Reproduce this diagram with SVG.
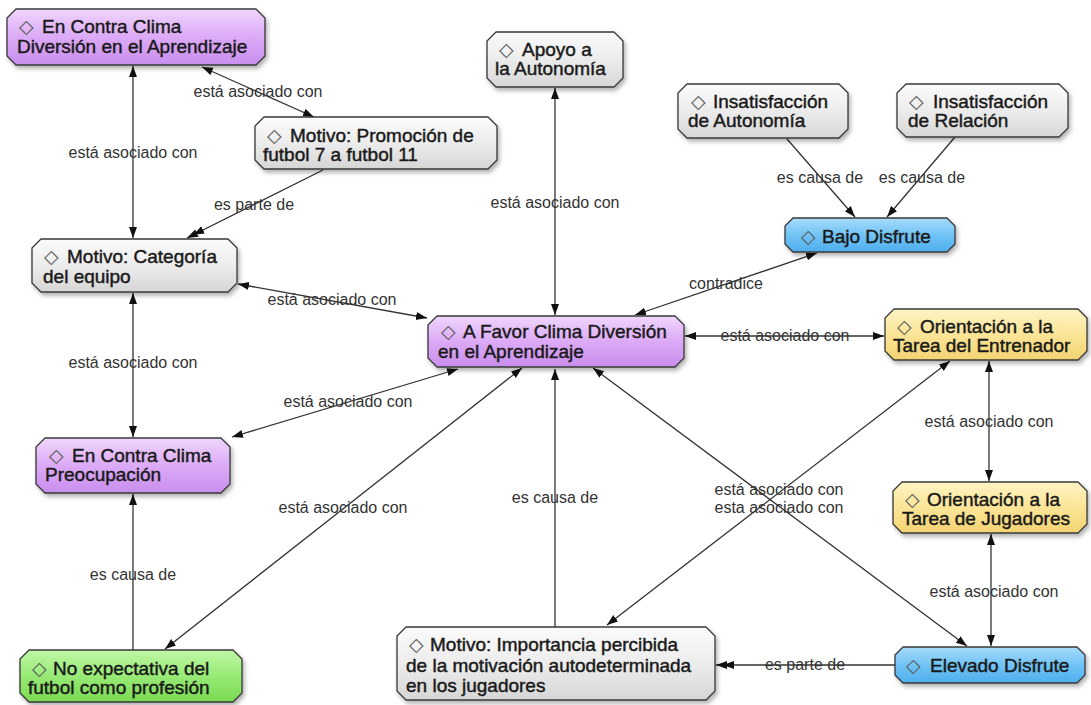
<svg xmlns="http://www.w3.org/2000/svg" width="1091" height="705" viewBox="0 0 1091 705">
  <defs>
    <style>
      .node path { stroke: #383838; stroke-width: 1.3; stroke-linejoin: round; filter: url(#shadow); }
      .node text { font-family: "Liberation Sans", Arial, sans-serif; font-size: 19px; fill: #1a1a1a; stroke: #1a1a1a; stroke-width: 0.45; }
      .node text .d { font-family: "DejaVu Sans", sans-serif; font-size: 19px; fill: #5a5a5a; stroke: none; }
      .purple path { fill: url(#gPurple); }
      .gray path { fill: url(#gGray); }
      .blue path { fill: url(#gBlue); }
      .yellow path { fill: url(#gYellow); }
      .green path { fill: url(#gGreen); }
      #connectors line { stroke: #333; stroke-width: 1.3; fill: none; }
      .both { marker-start: url(#arrow); marker-end: url(#arrow); }
      .one { marker-end: url(#arrow); }
      .dbl { marker-end: url(#arrow2); }
      .lbl { font-family: "Liberation Sans", Arial, sans-serif; font-size: 16px; fill: #333; text-anchor: middle; }
    </style>
    <filter id="shadow" x="-10%" y="-20%" width="125%" height="150%">
      <feDropShadow dx="2" dy="3" stdDeviation="2" flood-color="#000" flood-opacity="0.3"/>
    </filter>
    <linearGradient id="gPurple" x1="0" y1="0" x2="0" y2="1">
      <stop offset="0" stop-color="#efd6fc"/>
      <stop offset="0.5" stop-color="#dcaaf6"/>
      <stop offset="1" stop-color="#c98eee"/>
    </linearGradient>
    <linearGradient id="gGray" x1="0" y1="0" x2="0" y2="1">
      <stop offset="0" stop-color="#fbfbfb"/>
      <stop offset="0.5" stop-color="#ececec"/>
      <stop offset="1" stop-color="#d6d6d6"/>
    </linearGradient>
    <linearGradient id="gBlue" x1="0" y1="0" x2="0" y2="1">
      <stop offset="0" stop-color="#a8dbfb"/>
      <stop offset="0.5" stop-color="#70c3f5"/>
      <stop offset="1" stop-color="#4eaeec"/>
    </linearGradient>
    <linearGradient id="gYellow" x1="0" y1="0" x2="0" y2="1">
      <stop offset="0" stop-color="#fef4c4"/>
      <stop offset="0.5" stop-color="#fbe597"/>
      <stop offset="1" stop-color="#f3d372"/>
    </linearGradient>
    <linearGradient id="gGreen" x1="0" y1="0" x2="0" y2="1">
      <stop offset="0" stop-color="#bff7a6"/>
      <stop offset="0.5" stop-color="#98ea75"/>
      <stop offset="1" stop-color="#79da52"/>
    </linearGradient>
    <marker id="arrow" markerUnits="userSpaceOnUse" markerWidth="12" markerHeight="10" refX="11" refY="4" orient="auto-start-reverse">
      <path d="M0,0 L11,4 L0,8 Z" fill="#111"/>
    </marker>
    <marker id="arrow2" markerUnits="userSpaceOnUse" markerWidth="20" markerHeight="10" refX="18" refY="4" orient="auto">
      <path d="M0,0 L11,4 L0,8 Z M7,0 L18,4 L7,8 Z" fill="#111"/>
    </marker>
  </defs>

  <rect width="1091" height="705" fill="#fff"/>

  <!-- links between concepts -->
  <g id="connectors">
    <line class="both" x1="133" y1="66" x2="133" y2="238"/>
    <line class="both" x1="202" y1="67" x2="314" y2="117"/>
    <line class="dbl" x1="323" y1="170" x2="187" y2="238"/>
    <line class="both" x1="238" y1="284" x2="427" y2="318"/>
    <line class="both" x1="133" y1="293" x2="133" y2="437"/>
    <line class="both" x1="458" y1="369" x2="232" y2="437"/>
    <line class="both" x1="522" y1="368" x2="165" y2="649"/>
    <line class="one" x1="133" y1="650" x2="133" y2="494"/>
    <line class="both" x1="555" y1="88" x2="555" y2="315"/>
    <line class="both" x1="635" y1="315" x2="817" y2="253"/>
    <line class="one" x1="787" y1="139" x2="855" y2="217"/>
    <line class="one" x1="955" y1="137" x2="887" y2="217"/>
    <line class="both" x1="685" y1="336" x2="884" y2="336"/>
    <line class="both" x1="989" y1="361" x2="989" y2="481"/>
    <line class="both" x1="991" y1="534" x2="991" y2="646"/>
    <line class="dbl" x1="895" y1="665" x2="716" y2="665"/>
    <line class="both" x1="593" y1="368" x2="967" y2="646"/>
    <line class="both" x1="607" y1="625" x2="950" y2="361"/>
    <line class="one" x1="555" y1="627" x2="555" y2="369"/>

    <text class="lbl" x="133" y="158">está asociado con</text>
    <text class="lbl" x="258" y="97">está asociado con</text>
    <text class="lbl" x="254" y="210">es parte de</text>
    <text class="lbl" x="332" y="305">está asociado con</text>
    <text class="lbl" x="133" y="368">está asociado con</text>
    <text class="lbl" x="348" y="407">está asociado con</text>
    <text class="lbl" x="343" y="513">está asociado con</text>
    <text class="lbl" x="133" y="580">es causa de</text>
    <text class="lbl" x="555" y="208">está asociado con</text>
    <text class="lbl" x="726" y="289">contradice</text>
    <text class="lbl" x="820" y="183">es causa de</text>
    <text class="lbl" x="922" y="183">es causa de</text>
    <text class="lbl" x="785" y="341">está asociado con</text>
    <text class="lbl" x="989" y="427">está asociado con</text>
    <text class="lbl" x="994" y="597">está asociado con</text>
    <text class="lbl" x="805" y="670">es parte de</text>
    <text class="lbl" x="779" y="495">está asociado con</text>
    <text class="lbl" x="779" y="513">esta asociado con</text>
    <text class="lbl" x="555" y="503">es causa de</text>
  </g>

  <!-- concepts -->
  <g id="en-contra-diversion" class="node purple">
    <path d="M16,9 H256 L265,18 V56 L256,65 H16 L7,56 V18 Z"/>
    <text y="33"><tspan class="d" x="19">◇</tspan><tspan x="42">En Contra Clima</tspan></text>
    <text x="17" y="53">Diversión en el Aprendizaje</text>
  </g>
  <g id="motivo-promocion" class="node gray">
    <path d="M264,117 H488 L497,126 V160 L488,169 H264 L255,160 V126 Z"/>
    <text y="142"><tspan class="d" x="267">◇</tspan><tspan x="290">Motivo: Promoción de</tspan></text>
    <text x="263" y="161">futbol 7 a futbol 11</text>
  </g>
  <g id="motivo-categoria" class="node gray">
    <path d="M41,239 H228 L237,248 V283 L228,292 H41 L32,283 V248 Z"/>
    <text y="263"><tspan class="d" x="44">◇</tspan><tspan x="67">Motivo: Categoría</tspan></text>
    <text x="43" y="283">del equipo</text>
  </g>
  <g id="apoyo-autonomia" class="node gray">
    <path d="M496,32 H614 L623,41 V78 L614,87 H496 L487,78 V41 Z"/>
    <text y="56"><tspan class="d" x="499">◇</tspan><tspan x="522">Apoyo a</tspan></text>
    <text x="495" y="75">la Autonomía</text>
  </g>
  <g id="insatisfaccion-autonomia" class="node gray">
    <path d="M687,84 H839 L848,93 V129 L839,138 H687 L678,129 V93 Z"/>
    <text y="108"><tspan class="d" x="691">◇</tspan><tspan x="713">Insatisfacción</tspan></text>
    <text x="688" y="127">de Autonomía</text>
  </g>
  <g id="insatisfaccion-relacion" class="node gray">
    <path d="M906,84 H1059 L1068,93 V128 L1059,137 H906 L897,128 V93 Z"/>
    <text y="108"><tspan class="d" x="909">◇</tspan><tspan x="933">Insatisfacción</tspan></text>
    <text x="908" y="127">de Relación</text>
  </g>
  <g id="bajo-disfrute" class="node blue">
    <path d="M793,218 H947 L955,226 V244 L947,252 H793 L785,244 V226 Z"/>
    <text y="243"><tspan class="d" x="801">◇</tspan><tspan x="822">Bajo Disfrute</tspan></text>
  </g>
  <g id="a-favor-diversion" class="node purple">
    <path d="M437,316 H675 L684,325 V358 L675,367 H437 L428,358 V325 Z"/>
    <text y="338"><tspan class="d" x="441">◇</tspan><tspan x="463">A Favor Clima Diversión</tspan></text>
    <text x="438" y="358">en el Aprendizaje</text>
  </g>
  <g id="orientacion-entrenador" class="node yellow">
    <path d="M894,309 H1078 L1087,318 V351 L1078,360 H894 L885,351 V318 Z"/>
    <text y="333"><tspan class="d" x="897">◇</tspan><tspan x="920">Orientación a la</tspan></text>
    <text x="893" y="352">Tarea del Entrenador</text>
  </g>
  <g id="en-contra-preocupacion" class="node purple">
    <path d="M45,438 H221 L230,447 V484 L221,493 H45 L36,484 V447 Z"/>
    <text y="462"><tspan class="d" x="49">◇</tspan><tspan x="72">En Contra Clima</tspan></text>
    <text x="45" y="481">Preocupación</text>
  </g>
  <g id="orientacion-jugadores" class="node yellow">
    <path d="M902,482 H1078 L1087,491 V524 L1078,533 H902 L893,524 V491 Z"/>
    <text y="506"><tspan class="d" x="905">◇</tspan><tspan x="927">Orientación a la</tspan></text>
    <text x="902" y="525">Tarea de Jugadores</text>
  </g>
  <g id="no-expectativa" class="node green">
    <path d="M29,650 H233 L242,659 V693 L233,702 H29 L20,693 V659 Z"/>
    <text y="675"><tspan class="d" x="32">◇</tspan><tspan x="53">No expectativa del</tspan></text>
    <text x="28" y="694">futbol como profesión</text>
  </g>
  <g id="motivo-importancia" class="node gray">
    <path d="M406,627 H706 L715,636 V691 L706,700 H406 L397,691 V636 Z"/>
    <text y="651"><tspan class="d" x="409">◇</tspan><tspan x="430">Motivo: Importancia percibida</tspan></text>
    <text x="406" y="672">de la motivación autodeterminada</text>
    <text x="406" y="692">en los jugadores</text>
  </g>
  <g id="elevado-disfrute" class="node blue">
    <path d="M903,647 H1077 L1085,655 V675 L1077,683 H903 L895,675 V655 Z"/>
    <text y="672"><tspan class="d" x="906">◇</tspan><tspan x="930">Elevado Disfrute</tspan></text>
  </g>
</svg>
